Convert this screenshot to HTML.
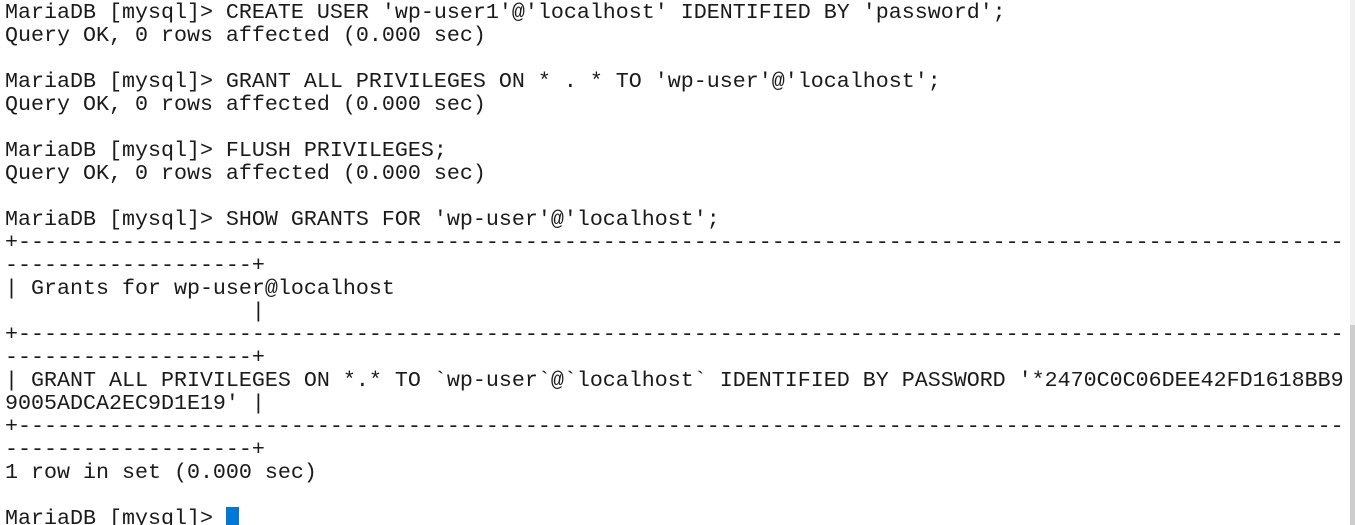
<!DOCTYPE html>
<html><head><style>
html,body{margin:0;padding:0;background:#fff;width:1355px;height:525px;overflow:hidden;position:relative}
pre{position:absolute;left:5px;top:1px;margin:0;font-family:"Liberation Mono","Courier New",monospace;font-size:21.67px;line-height:23px;color:#1a1a1a}
.sb1{position:absolute;left:1350px;top:0;width:5px;height:325px;background:#f0f0f0}
.sb2{position:absolute;left:1350px;top:325px;width:5px;height:200px;background:#cdcdcd}
.cur{position:absolute;left:226px;top:507px;width:13px;height:18px;background:#0078d7}
</style></head><body>
<pre>MariaDB [mysql]&gt; CREATE USER 'wp-user1'@'localhost' IDENTIFIED BY 'password';
Query OK, 0 rows affected (0.000 sec)

MariaDB [mysql]&gt; GRANT ALL PRIVILEGES ON * . * TO 'wp-user'@'localhost';
Query OK, 0 rows affected (0.000 sec)

MariaDB [mysql]&gt; FLUSH PRIVILEGES;
Query OK, 0 rows affected (0.000 sec)

MariaDB [mysql]&gt; SHOW GRANTS FOR 'wp-user'@'localhost';
+------------------------------------------------------------------------------------------------------
-------------------+
| Grants for wp-user@localhost
                   |
+------------------------------------------------------------------------------------------------------
-------------------+
| GRANT ALL PRIVILEGES ON *.* TO `wp-user`@`localhost` IDENTIFIED BY PASSWORD '*2470C0C06DEE42FD1618BB9
9005ADCA2EC9D1E19' |
+------------------------------------------------------------------------------------------------------
-------------------+
1 row in set (0.000 sec)

MariaDB [mysql]&gt; </pre>
<div class="cur"></div>
<div class="sb1"></div><div class="sb2"></div>
</body></html>
